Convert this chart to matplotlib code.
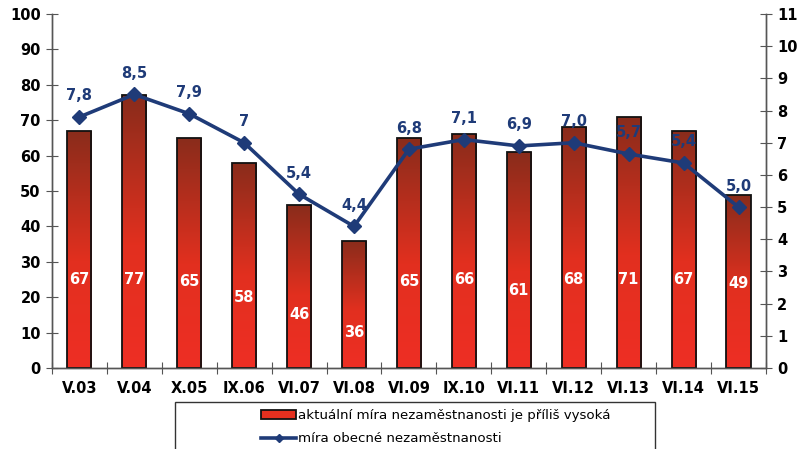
import numpy as np
import matplotlib
matplotlib.use("Agg")
import matplotlib.pyplot as plt
from matplotlib.colors import LinearSegmentedColormap
from matplotlib.patches import Rectangle

categories = ["V.03", "V.04", "X.05", "IX.06", "VI.07", "VI.08", "VI.09",
              "IX.10", "VI.11", "VI.12", "VI.13", "VI.14", "VI.15"]
too_high = [67, 77, 65, 58, 46, 36, 65, 66, 61, 68, 71, 67, 49]
unemployment = [7.8, 8.5, 7.9, 7.0, 5.4, 4.4, 6.8, 7.1, 6.9, 7.0, 6.65, 6.37, 5.0]
rate_labels = ["7,8", "8,5", "7,9", "7", "5,4", "4,4", "6,8", "7,1", "6,9",
               "7,0", "5,7", "5,4", "5,0"]
bar_label_pos = [25, 25, 24.5, 20, 15, 10, 24.5, 25, 22, 25, 25, 25, 24]

navy = "#1f3b78"
font = dict(fontweight="bold", fontsize=10.5, family="DejaVu Sans")

fig = plt.figure(figsize=(8.11, 4.49), dpi=100)
ax = fig.add_axes([0.064, 0.1804, 0.8805, 0.7884])
ax2 = ax.twinx()

x = np.arange(len(categories))
width = 0.44
cmap = LinearSegmentedColormap.from_list(
    "redgrad", [(0, "#ee2e24"), (0.45, "#e2301f"), (1.0, "#892c1b")])
grad = np.linspace(0, 1, 256).reshape(-1, 1)

bars = ax.bar(x, too_high, width, facecolor="none", edgecolor="#111111",
              linewidth=1.3, zorder=3)
for b, v in zip(bars, too_high):
    x0 = b.get_x()
    im = ax.imshow(grad, cmap=cmap, origin="lower", aspect="auto",
                   extent=[x0, x0 + width, 0, v], zorder=2)
    im.set_clip_path(b)

for xi, v, ly in zip(x, too_high, bar_label_pos):
    ax.text(xi, ly, str(v), ha="center", va="center", color="white",
            zorder=4, **font)

ax.set_xlim(-0.5, len(categories) - 0.5)
ax.set_ylim(0, 100)
ax.set_yticks(np.arange(0, 101, 10))
ax.set_xticks(np.arange(-0.5, len(categories), 1.0))
ax.set_xticklabels([])
ax.set_xticks(x, minor=True)
ax.set_xticklabels(categories, minor=True)
ax.tick_params(axis="x", which="minor", length=0, pad=9)
ax.tick_params(axis="x", which="major", direction="inout", length=8,
               color="#555555")
ax.tick_params(axis="y", direction="inout", length=8, color="#555555", pad=4)
for lab in ax.get_xticklabels(minor=True) + ax.get_yticklabels():
    lab.set_fontweight("bold")
    lab.set_fontsize(10.5)

ax2.plot(x, unemployment, color=navy, linewidth=2.6, marker="D",
         markersize=7.5, zorder=5, label="míra obecné nezaměstnanosti")
for xi, v, t in zip(x, unemployment, rate_labels):
    ax2.text(xi, v + 0.42, t, ha="center", va="bottom", color=navy,
             zorder=6, **font)
ax2.set_ylim(0, 11)
ax2.set_yticks(np.arange(0, 12, 1))
ax2.tick_params(axis="y", direction="inout", length=8, color="#555555", pad=4)
for lab in ax2.get_yticklabels():
    lab.set_fontweight("bold")
    lab.set_fontsize(10.5)

for a in (ax, ax2):
    a.spines["top"].set_visible(False)
    for s in ("left", "right", "bottom"):
        a.spines[s].set_color("#555555")
        a.spines[s].set_linewidth(1.0)
ax.set_zorder(ax2.get_zorder() - 1)
ax.patch.set_visible(True)
ax2.patch.set_visible(False)

# legend box
fig.patches.append(Rectangle((175 / 811, -0.01), 480 / 811, 51 / 449,
                             transform=fig.transFigure, facecolor="white",
                             edgecolor="#333333", linewidth=1.0))
bar_handle = Rectangle((0, 0), 1, 1, facecolor="#e5301f", edgecolor="#111111",
                       linewidth=1.3)
line_handle = plt.Line2D([], [], color=navy, linewidth=2.6, marker="D",
                         markersize=4)
fig.legend([bar_handle, line_handle],
           ["aktuální míra nezaměstnanosti je příliš vysoká",
            "míra obecné nezaměstnanosti"],
           loc="upper left", bbox_to_anchor=(252 / 811, 1 - 400 / 449),
           frameon=False, fontsize=9.6, handlelength=2.6, handleheight=0.6,
           handletextpad=0.15, labelspacing=0.75, borderpad=0.2)

fig.savefig("out.png", dpi=100)
